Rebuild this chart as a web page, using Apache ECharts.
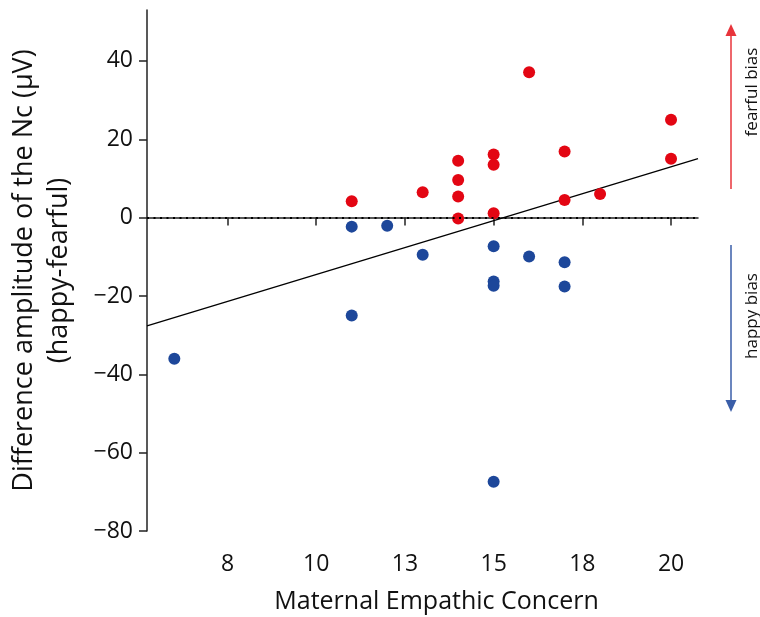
<!DOCTYPE html>
<html>
<head>
<meta charset="utf-8">
<script src="https://cdn.jsdelivr.net/npm/echarts@6/dist/echarts.min.js"></script>
<style>
  html, body { margin: 0; padding: 0; background: #fff; }
  #chart { width: 760px; height: 617px; }
</style>
</head>
<body>
<div id="chart"></div>
<script>
var chart = echarts.init(document.getElementById('chart'));

// fearful bias (positive difference)
var fearfulX = [11, 13, 14, 14, 14, 14, 15, 15, 15, 16, 17, 17, 18, 20, 20];
var fearfulY = [4.2, 6.5, 14.5, 9.6, 5.4, -0.2, 16.1, 13.5, 1.1, 37.1, 16.9, 4.5, 6.0, 25.0, 15.0];

// happy bias (negative difference)
var happyX = [6, 11, 11, 12, 13, 15, 15, 15, 15, 16, 17, 17];
var happyY = [-36.0, -25.0, -2.3, -2.1, -9.5, -7.3, -16.3, -17.4, -67.4, -9.9, -11.4, -17.6];

// regression line
var slope = 2.75;
var intercept = -42.0;

var xTicks = [7.5, 10, 12.5, 15, 17.5, 20];
var yTicks = [-80, -60, -40, -20, 0, 20, 40];

var xMin = 5.23, xMax = 20.76;
var yMin = -80, yMax = 53;

var font = 'Open Sans';

function pairs(xs, ys) {
    return xs.map(function (x, i) { return [x, ys[i]]; });
}

var fitLine = [xMin, xMax].map(function (x) { return [x, intercept + slope * x]; });

var option = {
    animation: false,
    grid: { left: 147, right: 62, top: 10, bottom: 86, outerBoundsMode: 'none', containLabel: false },
    xAxis: {
        type: 'value',
        min: xMin,
        max: xMax,
        name: 'Maternal Empathic Concern',
        nameLocation: 'middle',
        nameGap: 58,
        nameTextStyle: { fontFamily: font, fontSize: 25, color: '#111', padding: [0, 0, 0, 28] },
        axisLine: { lineStyle: { color: '#222', width: 1.5 } },
        axisTick: { length: 8, lineStyle: { color: '#222', width: 1.5 }, customValues: xTicks },
        axisLabel: {
            customValues: xTicks,
            margin: 22,
            fontFamily: font, fontSize: 23, color: '#111',
            formatter: function (v) { return String(Math.round(v)); }
        },
        splitLine: { show: false }
    },
    yAxis: {
        type: 'value',
        min: yMin,
        max: yMax,
        name: 'Difference amplitude of the Nc (\u00b5V)\n(happy-fearful)',
        nameLocation: 'middle',
        nameGap: 70,
        nameTextStyle: { fontFamily: font, fontSize: 27, color: '#111', lineHeight: 35 },
        axisLine: { lineStyle: { color: '#222', width: 1.5 } },
        axisTick: { length: 8, lineStyle: { color: '#222', width: 1.5 }, customValues: yTicks },
        axisLabel: {
            customValues: yTicks,
            margin: 14,
            fontFamily: font, fontSize: 23, color: '#111',
            formatter: function (v) { return String(v).replace('-', '\u2212'); }
        },
        splitLine: { show: false }
    },
    series: [
        {
            type: 'line',
            data: fitLine,
            symbol: 'none',
            lineStyle: { color: '#000', width: 1.3 },
            z: 1,
            markLine: {
                silent: true,
                symbol: 'none',
                label: { show: false },
                lineStyle: { color: '#000', width: 2, type: [2, 4.5] },
                data: [{ yAxis: 0 }]
            }
        },
        {
            type: 'scatter',
            data: pairs(fearfulX, fearfulY),
            symbolSize: 12,
            itemStyle: { color: '#e30613', opacity: 1 },
            z: 3
        },
        {
            type: 'scatter',
            data: pairs(happyX, happyY),
            symbolSize: 12,
            itemStyle: { color: '#1d479a', opacity: 1 },
            z: 3
        }
    ],
    graphic: [
        { type: 'line', shape: { x1: 731, y1: 189, x2: 731, y2: 34 }, style: { stroke: '#e8343b', lineWidth: 1.5 } },
        { type: 'polygon', shape: { points: [[731, 24], [725.5, 36], [736.5, 36]] }, style: { fill: '#e8343b' } },
        {
            type: 'text', x: 752, y: 92, rotation: Math.PI / 2,
            style: { text: 'fearful bias', fontFamily: font, fontSize: 17, fill: '#111', align: 'center', verticalAlign: 'middle' }
        },
        { type: 'line', shape: { x1: 731, y1: 245, x2: 731, y2: 402 }, style: { stroke: '#3a5ea8', lineWidth: 1.5 } },
        { type: 'polygon', shape: { points: [[731, 412], [725.5, 400], [736.5, 400]] }, style: { fill: '#3a5ea8' } },
        {
            type: 'text', x: 752, y: 316, rotation: Math.PI / 2,
            style: { text: 'happy bias', fontFamily: font, fontSize: 17, fill: '#111', align: 'center', verticalAlign: 'middle' }
        }
    ]
};

chart.setOption(option);

window.onresize = chart.resize;
</script>
</body>
</html>
